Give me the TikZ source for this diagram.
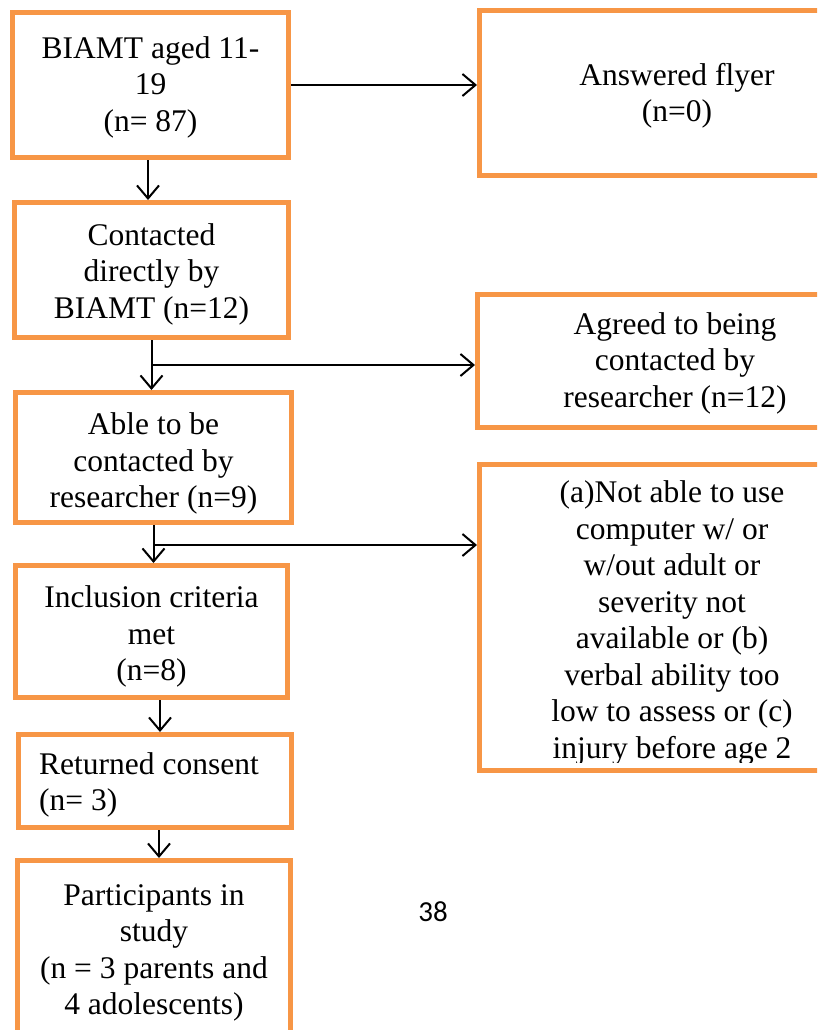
\documentclass[tikz,border=0pt]{standalone}
\usepackage{fontspec}
\setmainfont{Liberation Serif}
\newfontfamily\numfont{Carlito}
\usetikzlibrary{arrows.meta}
\definecolor{boxorange}{HTML}{F79646}
\begin{document}
\begin{tikzpicture}[x=1pt,y=-1pt,
  box/.style={draw=boxorange, line width=5pt, rectangle, inner sep=0pt},
  plaintext/.style={align=center, inner sep=0pt, font=\fontsize{31.5}{36.5}\selectfont},
  arr/.style={draw=black, line width=2pt, -{Straight Barb[length=13pt,width=22pt]}}]
\clip (0,0) rectangle (817,1030);
\fill[white] (0,0) rectangle (817,1030);
% left column boxes
\node[box, minimum width=276pt, minimum height=145pt] (b1) at (150.5,85) {};
\node[box, minimum width=274pt, minimum height=135pt] (b2) at (151.5,270) {};
\node[box, minimum width=276pt, minimum height=130pt] (b3) at (153.5,457.5) {};
\node[box, minimum width=272pt, minimum height=132pt] (b4) at (151.5,631.5) {};
\node[box, minimum width=273pt, minimum height=93pt] (b5) at (155,781) {};
\node[box, minimum width=273pt, minimum height=185pt] (b6) at (154,953) {};
% right column boxes
\node[box, minimum width=395pt, minimum height=165pt] (flyer) at (677,93) {};
\node[box, minimum width=395pt, minimum height=133pt] (agreed) at (675,361) {};
\node[box, minimum width=385pt, minimum height=306pt] (excl) at (672,617.5) {};
% texts
\node[plaintext] (b1t) at ([yshift=-2pt]b1.center) {BIAMT aged 11-\\19\\(n= 87)};
\node[plaintext] (b2t) at ([yshift=-4pt]b2.center) {Contacted\\directly by\\BIAMT (n=12)};
\node[plaintext] (b3t) at ([yshift=-6pt]b3.center) {Able to be\\contacted by\\researcher (n=9)};
\node[plaintext] (b4t) at ([yshift=-5pt]b4.center) {Inclusion criteria\\met\\(n=8)};
\node[plaintext, align=left, anchor=west] (b5t) at ([xshift=-116pt,yshift=-4pt]b5.center) {Returned consent\\(n= 3)};
\node[plaintext] (b6t) at (b6.center) {Participants in\\study\\(n = 3 parents and\\4 adolescents)};
\node[plaintext] (flyert) at ([yshift=-3pt]flyer.center) {Answered flyer\\(n=0)};
\node[plaintext] (agreedt) at ([yshift=-2pt]agreed.center) {Agreed to being\\contacted by\\researcher (n=12)};
\begin{scope}
\clip (470,455) rectangle (870,762);
\node[plaintext] (excltext) at ([yshift=-5.5pt]excl.center) {(a)Not able to use\\computer w/ or\\w/out adult or\\severity not\\available or (b)\\verbal ability too\\low to assess or (c)\\injury before age 2};
\end{scope}
% page number
\node[font=\numfont\fontsize{29}{34}\selectfont, inner sep=0pt] (pagenum) at (433,912) {38};
% connectors
\coordinate (j1) at (151.5,365);
\coordinate (j2) at (153.5,545);
\draw[arr] (b1.east) -- (flyer.west |- b1.east);
\draw[arr] ([xshift=-2.5pt]b1.south) -- ([xshift=-2.5pt]b1.south |- b2.north);
\draw[arr] (b2.south) -- (b2.south |- b3.north);
\draw[arr] (j1) -- (agreed.west |- j1);
\draw[arr] (b3.south) -- (b3.south |- b4.north);
\draw[arr] (j2) -- (excl.west |- j2);
\draw[arr] ([xshift=8.5pt]b4.south) -- ([xshift=8.5pt]b4.south |- b5.north);
\draw[arr] ([xshift=4pt]b5.south) -- ([xshift=4pt]b5.south |- b6.north);
\end{tikzpicture}
\end{document}
